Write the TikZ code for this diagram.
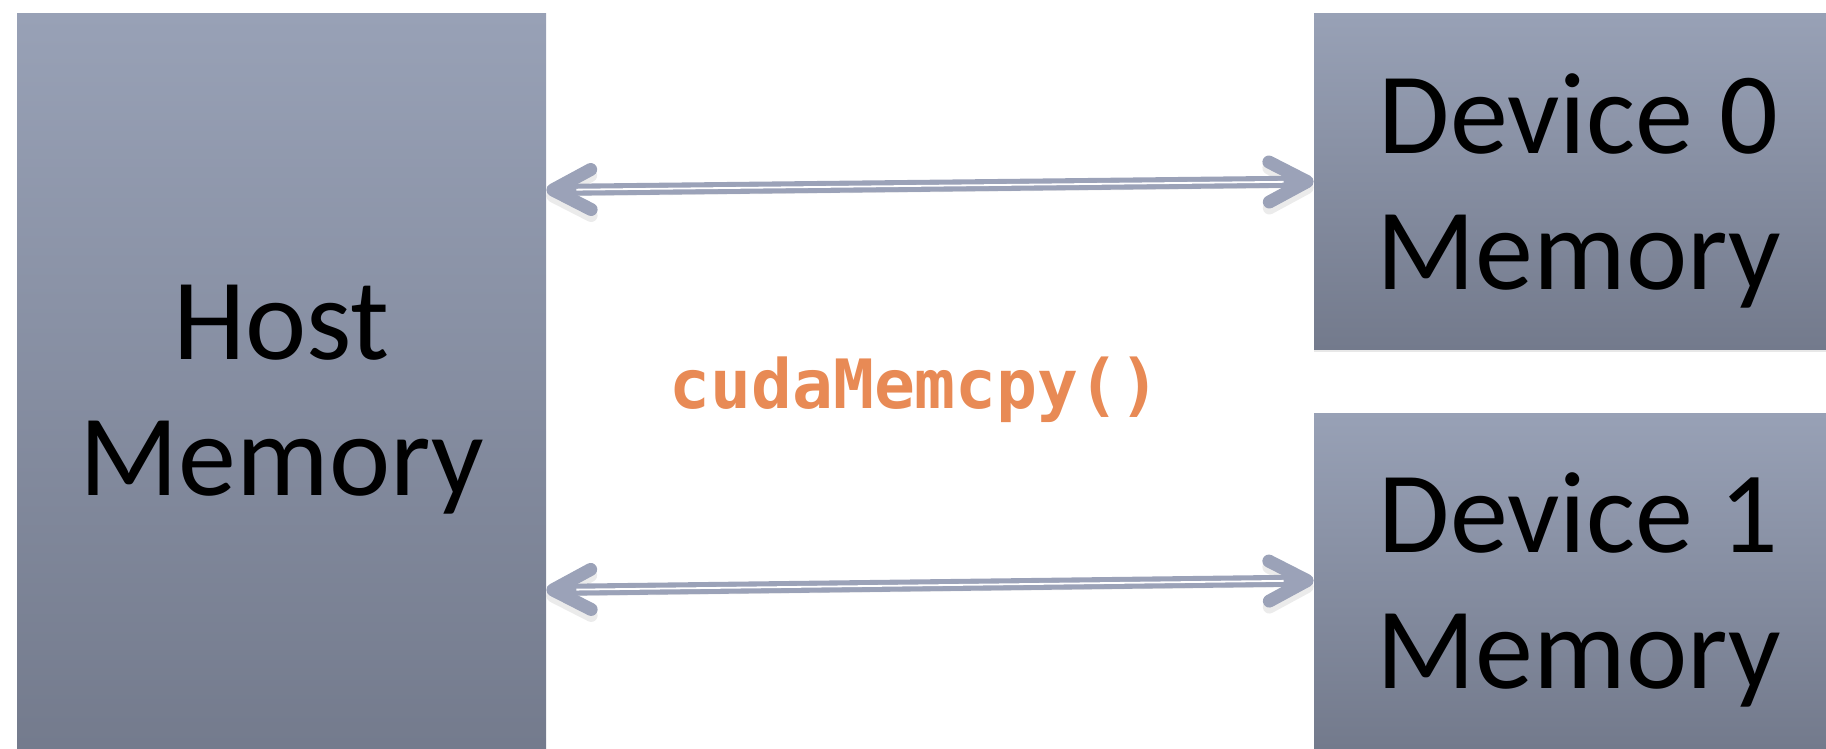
\documentclass[tikz,border=0pt]{standalone}
\usepackage{fontspec}
\setmainfont{Carlito}
\newfontfamily\codefont{DejaVu Sans Mono}
\usetikzlibrary{arrows.meta,shadows}
\definecolor{boxtop}{HTML}{98A1B6}
\definecolor{boxbottom}{HTML}{737A8C}
\definecolor{linkgray}{HTML}{9BA2B8}
\definecolor{callorange}{HTML}{E88A55}
\tikzset{
  membox/.style = {rectangle, align=center, inner sep=0pt, text depth=0pt,
    minimum width=264.5pt, top color=boxtop, bottom color=boxbottom,
    font=\fontsize{58}{68}\selectfont,
    drop shadow={opacity=0.18, shadow xshift=0pt, shadow yshift=-1.5pt}},
  devbox/.style = {membox, minimum height=167.5pt, text depth=-8pt},
  link/.style = {linkgray, line width=6pt, <->,
    >={Straight Barb[round, length=19pt, width=20pt, line width=6.5pt]},
    preaction={draw=black, opacity=0.08, transform canvas={yshift=-3pt}}},
  linkshine/.style = {white, line width=0.9pt, shorten <=15pt, shorten >=15pt},
  calltext/.style = {callorange, anchor=base, font=\codefont\bfseries\fontsize{34}{40}\selectfont},
}

\begin{document}
\begin{tikzpicture}[x=0.5pt, y=-0.5pt]
\useasboundingbox (0,0) rectangle (1826,749);
\node [membox, minimum height=376pt] (host) at (281.5,390) {Host\\Memory};
\node [devbox] (dev0) at (1578.5,181.5) {Device 0\\Memory};
\node [devbox] (dev1) at (1578.5,580.5) {Device 1\\Memory};
% copies both ways
\draw [link] ([yshift=100pt]host.east) -- (dev0.west);
\draw [linkshine] ([yshift=100pt]host.east) -- (dev0.west);
\draw [link] ([yshift=-100pt]host.east) -- (dev1.west);
\draw [linkshine] ([yshift=-100pt]host.east) -- (dev1.west);
\node [calltext] (call) at (915,408) {cudaMemcpy()};
\end{tikzpicture}
\end{document}
